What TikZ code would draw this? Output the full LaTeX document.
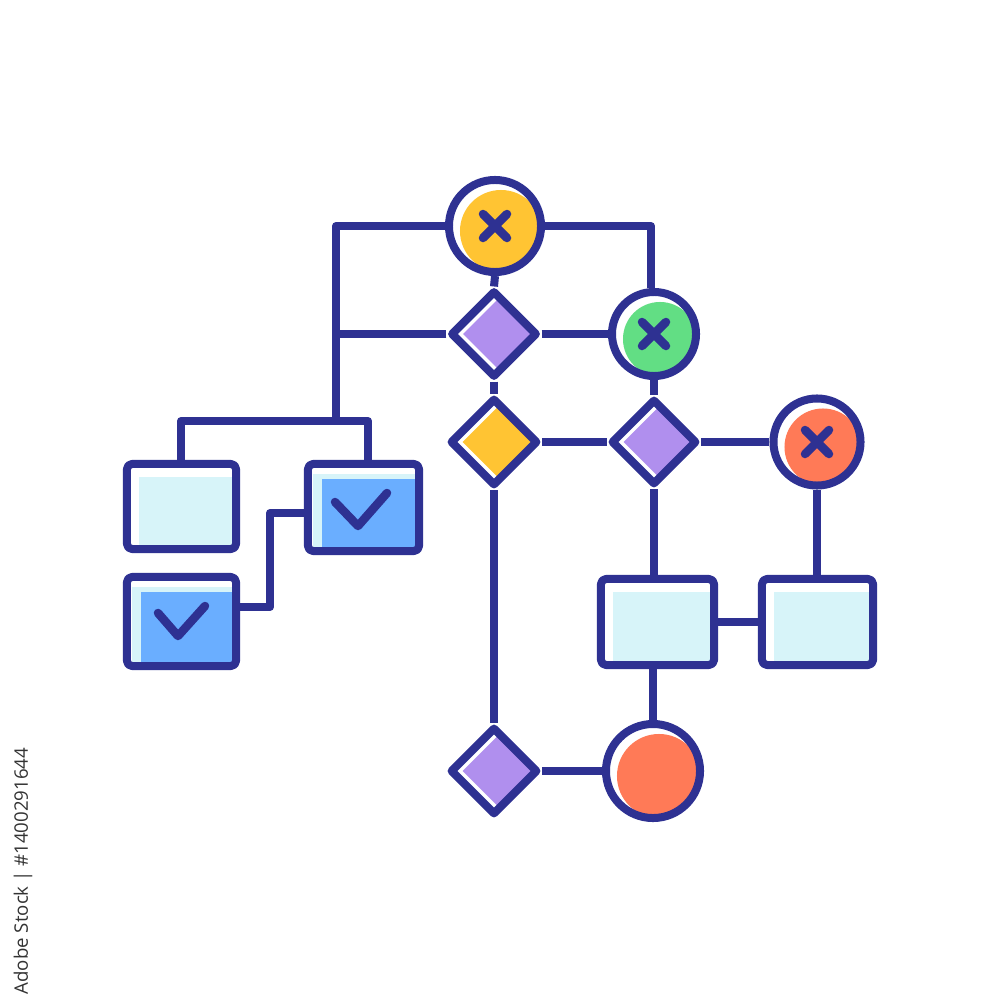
\documentclass[tikz,border=0pt]{standalone}
\usepackage{fontspec}
\newfontfamily\wmfont{Open Sans}
\usetikzlibrary{shapes.geometric}
\definecolor{navy}{HTML}{2E3192}
\definecolor{cyellow}{HTML}{FFC433}
\definecolor{cgreen}{HTML}{62DE84}
\definecolor{corange}{HTML}{FF7A57}
\definecolor{cpurple}{HTML}{B08FEE}
\definecolor{lcyan}{HTML}{D7F4F9}
\definecolor{cblue}{HTML}{6AAEFF}
\definecolor{wmgray}{HTML}{333333}
\newcommand\drawX[1]{\draw[xmark] ([shift={(-12,-12)}]#1.center) -- ([shift={(12,12)}]#1.center) ([shift={(-12,12)}]#1.center) -- ([shift={(12,-12)}]#1.center);}
\begin{document}
\begin{tikzpicture}[x=0.01cm,y=-0.01cm,line width=0.08cm,line join=round,
  every node/.style={inner sep=0pt,outer sep=auto},
  conn/.style={draw=navy,line width=0.08cm,line cap=butt},
  xmark/.style={draw=navy,line width=0.085cm,line cap=round},
  ring/.style 2 args={circle,draw=navy,fill=white,minimum size=#1,
    path picture={\fill[#2] ([shift={(6,5)}]path picture bounding box.center) circle[radius=0.5*#1-0.05cm];}},
  dia/.style 2 args={diamond,aspect=1,draw=navy,fill=white,minimum size=#1,
    path picture={\fill[#2] ([xshift=0.11cm]path picture bounding box.west) -- ([xshift=0.11cm]path picture bounding box.north) -- ([xshift=0.11cm]path picture bounding box.east) -- ([xshift=0.11cm]path picture bounding box.south) -- cycle;}},
  box/.style={rectangle,rounded corners=0.05cm,draw=navy,fill=white},
  lbox/.style={box,path picture={\fill[lcyan,sharp corners] ([shift={(12,13)}]path picture bounding box.north west) rectangle (path picture bounding box.south east);}},
  cbox/.style={box,path picture={\fill[lcyan,sharp corners] ([shift={(5,10)}]path picture bounding box.north west) rectangle (path picture bounding box.south east);
    \fill[cblue,sharp corners] ([shift={(14,15)}]path picture bounding box.north west) rectangle (path picture bounding box.south east);}}
]
\useasboundingbox (0,0) rectangle (1000,1000);
\fill[white] (0,0) rectangle (1000,1000);

% nodes
\node[ring={0.92cm}{cyellow}] (topc) at (495,226) {};
\node[ring={0.84cm}{cgreen}] (greenc) at (654,334) {};
\node[ring={0.87cm}{corange}] (redx) at (817,442) {};
\node[ring={0.94cm}{corange}] (botc) at (653,771) {};
\node[dia={0.87cm}{cpurple}] (d1) at (494,334) {};
\node[dia={0.88cm}{cyellow}] (d2) at (494,442) {};
\node[dia={0.86cm}{cpurple}] (d3) at (654,442) {};
\node[dia={0.88cm}{cpurple}] (d4) at (494,771) {};
\node[lbox,minimum width=1.09cm,minimum height=0.85cm] (b1) at (181.5,506.5) {};
\node[cbox,minimum width=1.11cm,minimum height=0.87cm] (b2) at (363.5,507.5) {};
\node[cbox,minimum width=1.09cm,minimum height=0.89cm] (b3) at (181.5,621.5) {};
\node[lbox,minimum width=1.13cm,minimum height=0.86cm] (b4) at (657.5,622) {};
\node[lbox,minimum width=1.11cm,minimum height=0.86cm] (b5) at (817.5,622) {};

% marks
\drawX{topc}
\drawX{greenc}
\drawX{redx}
\draw[xmark] ([shift={(-28.5,-5.5)}]b2.center) -- ([shift={(-5.5,18.5)}]b2.center) -- ([shift={(23.5,-14.5)}]b2.center);
\draw[xmark] ([shift={(-23.5,-8.5)}]b3.center) -- ([shift={(-3.5,14.5)}]b3.center) -- ([shift={(23.5,-15.5)}]b3.center);

% helper coordinates
\coordinate (lj) at (336,421);
\coordinate (bl) at (181,421);
\coordinate (br) at (368,421);
\coordinate (k1) at (270,513);
\coordinate (k2) at (270,607);
\coordinate (tr) at (651,226);

% connectors
\draw[conn] (topc.west) -| (lj);
\draw[conn] (d1.west) -- (d1.west -| lj);
\draw[conn] (topc.east) -- (tr) -- (tr |- greenc.north);
\draw[conn] (topc.south) -- (d1.north);
\draw[conn] (d1.east) -- (greenc.west);
\draw[conn] (d1.south) -- (d2.north);
\draw[conn] (greenc.south) -- (d3.north);
\draw[conn] (d2.east) -- (d3.west);
\draw[conn] (d3.east) -- (redx.west);
\draw[conn] (redx.south) -- (redx.south |- b5.north);
\draw[conn] (d3.south) -- (d3.south |- b4.north);
\draw[conn] (b4.east) -- (b5.west);
\draw[conn] (botc.north) -- (botc.north |- b4.south);
\draw[conn] (d2.south) -- (d4.north);
\draw[conn] (d4.east) -- (botc.west);
\draw[conn] (bl |- b1.north) -- (bl) -- (br) -- (br |- b2.north);
\draw[conn] (b2.west |- k1) -- (k1) -- (k2) -- (k2 -| b3.east);

% watermark text
\node[rotate=90,text=wmgray,font=\wmfont\fontsize{5.3}{6}\selectfont] (wm) at (23,871) {Adobe Stock | \#1400291644};
\end{tikzpicture}
\end{document}
